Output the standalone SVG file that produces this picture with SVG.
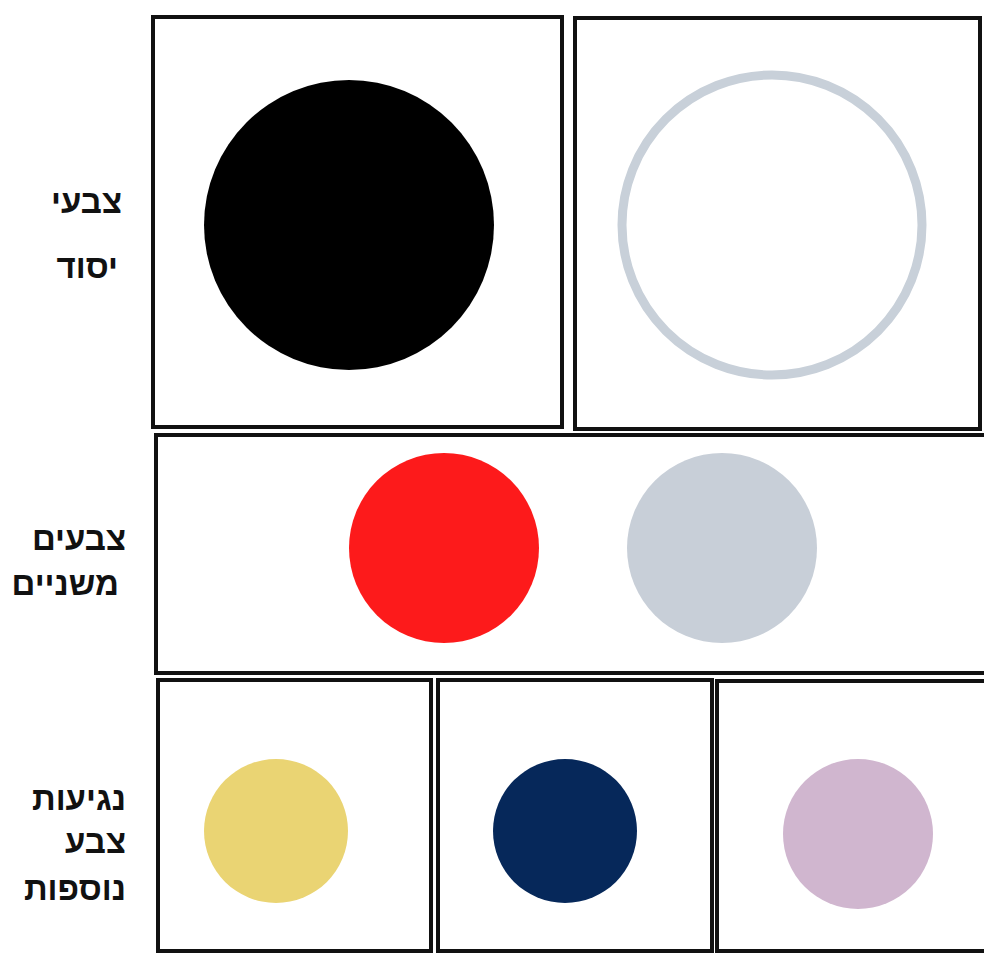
<svg xmlns="http://www.w3.org/2000/svg" width="984" height="954" viewBox="0 0 984 954">
<style>
.box{fill:#fff;stroke:#111;stroke-width:4;}
.lbl{font-family:"Liberation Sans","DejaVu Sans",sans-serif;font-size:33px;font-weight:bold;fill:#111;text-anchor:end;}
</style>
<rect width="984" height="954" fill="#fff"/>
<g id="labels">
<text class="lbl" x="122" y="213">צבעי</text>
<text class="lbl" x="118" y="278">יסוד</text>
<text class="lbl" x="126" y="550">צבעים</text>
<text class="lbl" x="119" y="595">משניים</text>
<text class="lbl" x="126" y="810">נגיעות</text>
<text class="lbl" x="126" y="853">צבע</text>
<text class="lbl" x="126" y="900">נוספות</text>
</g>
<g id="box-primary-black">
<rect class="box" x="153" y="17" width="409" height="410"/>
<circle cx="349" cy="225" r="145" fill="#000"/>
</g>
<g id="box-primary-white">
<rect class="box" x="575" y="18" width="405" height="411"/>
<circle cx="772" cy="225" r="150" fill="#fff" stroke="#c8d0d9" stroke-width="9"/>
</g>
<g id="box-secondary">
<rect class="box" x="156" y="435" width="840" height="238"/>
<circle cx="444" cy="548" r="95" fill="#fd1a1b"/>
<circle cx="722" cy="548" r="95" fill="#c8cfd8"/>
</g>
<g id="box-accent-yellow">
<rect class="box" x="158" y="680" width="273" height="271"/>
<circle cx="276" cy="831" r="72" fill="#ead473"/>
</g>
<g id="box-accent-navy">
<rect class="box" x="438" y="680" width="274" height="271"/>
<circle cx="565" cy="831" r="72" fill="#06285a"/>
</g>
<g id="box-accent-lilac">
<rect class="box" x="717" y="681" width="280" height="270"/>
<circle cx="858" cy="834" r="75" fill="#d0b6cf"/>
</g>
<g id="connectors"></g>
</svg>
